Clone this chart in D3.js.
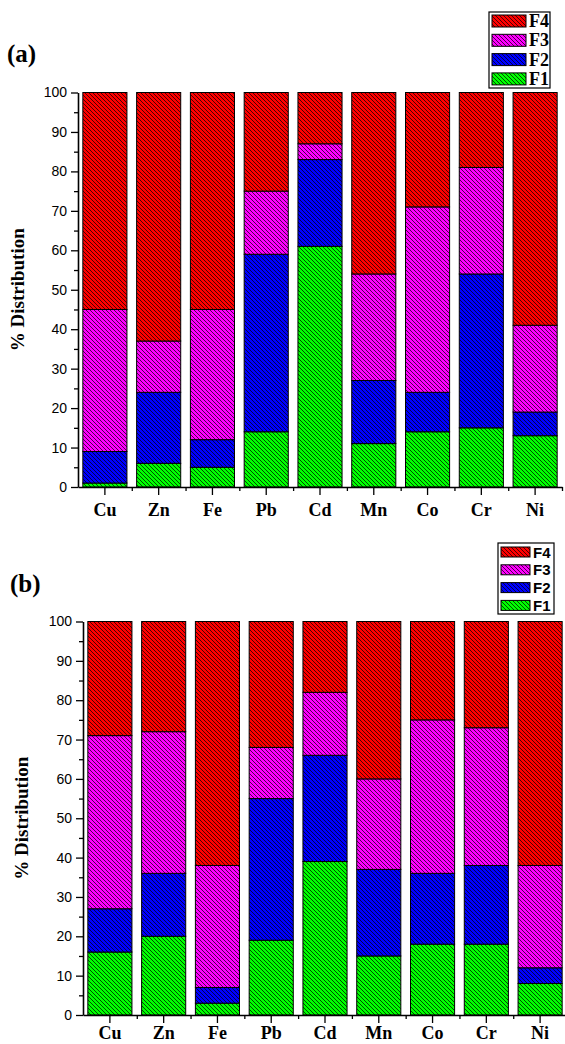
<!DOCTYPE html>
<html>
<head>
<meta charset="utf-8">
<script src="https://cdn.jsdelivr.net/npm/d3@7"></script>
<style>
  body { margin: 0; background: #fff; }
</style>
</head>
<body>
<svg id="chart" width="565" height="1044"></svg>
<script>
const metals = ['Cu', 'Zn', 'Fe', 'Pb', 'Cd', 'Mn', 'Co', 'Cr', 'Ni'];
const fractions = ['F1', 'F2', 'F3', 'F4'];
const fractionColors = ['#00ff00', '#0000ff', '#ff00ff', '#ff0000'];
const yMajorTicks = [0, 10, 20, 30, 40, 50, 60, 70, 80, 90, 100];
const yMinorTicks = [5, 15, 25, 35, 45, 55, 65, 75, 85, 95];

// panel (a), % per fraction
const f1A = [1, 6, 5, 14, 61, 11, 14, 15, 13];
const f2A = [8, 18, 7, 45, 22, 16, 10, 39, 6];
const f3A = [36, 13, 33, 16, 4, 27, 47, 27, 22];
const f4A = [55, 63, 55, 25, 13, 46, 29, 19, 59];

// panel (b)
const f1B = [16, 20, 3, 19, 39, 15, 18, 18, 8];
const f2B = [11, 16, 4, 36, 27, 22, 18, 20, 4];
const f3B = [44, 36, 31, 13, 16, 23, 39, 35, 26];
const f4B = [29, 28, 62, 32, 18, 40, 25, 27, 62];

const serif = '"Times New Roman", "Liberation Serif", serif';
const sans = 'Arial, "Liberation Sans", sans-serif';

const svg = d3.select('#chart');
const defs = svg.append('defs');

// hatch patterns, black diagonal lines over the fill colour
fractionColors.forEach((color, i) => {
  const pat = defs.append('pattern')
    .attr('id', 'hatch' + i)
    .attr('patternUnits', 'userSpaceOnUse')
    .attr('width', 4)
    .attr('height', 4);
  pat.append('rect').attr('width', 4).attr('height', 4).attr('fill', color);
  pat.append('path')
    .attr('d', 'M-1,-1L5,5M3,-1L5,1M-1,3L1,5')
    .attr('stroke', '#000')
    .attr('stroke-width', 0.7);
});

function drawPanel(panel) {
  const rows = metals.map((m, i) => ({
    metal: m,
    F1: panel.values[0][i],
    F2: panel.values[1][i],
    F3: panel.values[2][i],
    F4: panel.values[3][i],
  }));
  const series = d3.stack().keys(fractions)(rows);

  const x = d3.scaleBand()
    .domain(metals)
    .range([panel.left, panel.right])
    .paddingInner(0.18)
    .paddingOuter(0.09);
  const y = d3.scaleLinear()
    .domain([0, 100])
    .range([panel.bottom, panel.top]);

  const g = svg.append('g');

  g.selectAll('g.series')
    .data(series)
    .enter()
    .append('g')
    .attr('fill', (s, i) => `url(#hatch${i})`)
    .selectAll('rect')
    .data(s => s)
    .enter()
    .append('rect')
    .attr('x', d => x(d.data.metal))
    .attr('width', x.bandwidth())
    .attr('y', d => y(d[1]))
    .attr('height', d => y(d[0]) - y(d[1]))
    .attr('stroke', '#000')
    .attr('stroke-width', 1);

  // y axis
  const yAxis = g.append('g')
    .attr('transform', `translate(${panel.left},0)`)
    .call(d3.axisLeft(y).tickValues(yMajorTicks).tickSize(7).tickSizeOuter(0).tickPadding(4));
  yAxis.selectAll('text')
    .style('font-family', sans)
    .style('font-size', '14px')
    .attr('fill', '#000');
  g.append('g')
    .attr('transform', `translate(${panel.left},0)`)
    .call(d3.axisLeft(y).tickValues(yMinorTicks).tickSize(4).tickFormat(''))
    .select('.domain').remove();

  // x axis
  const xAxis = g.append('g')
    .attr('transform', `translate(0,${panel.bottom})`)
    .call(d3.axisBottom(x).tickSize(8).tickSizeOuter(0).tickPadding(panel.xPad));
  xAxis.selectAll('text')
    .style('font-family', serif)
    .style('font-weight', 'bold')
    .style('font-size', '18px')
    .attr('fill', '#000');
  const xMinor = d3.scaleLinear().domain([0, metals.length]).range([panel.left, panel.right]);
  g.append('g')
    .attr('transform', `translate(0,${panel.bottom})`)
    .call(d3.axisBottom(xMinor).tickValues(d3.range(1, metals.length + 1)).tickSize(4).tickFormat(''))
    .select('.domain').remove();

  g.selectAll('.domain').attr('stroke-width', 1.6);
  g.selectAll('.tick line').attr('stroke-width', 1.3);

  // axis title
  g.append('text')
    .attr('transform', `translate(${panel.titleX},${(panel.top + panel.bottom) / 2}) rotate(-90)`)
    .attr('text-anchor', 'middle')
    .attr('dominant-baseline', 'central')
    .style('font-family', serif)
    .style('font-weight', 'bold')
    .style('font-size', '19px')
    .text('% Distribution');

  // panel label
  g.append('text')
    .attr('x', panel.labelX)
    .attr('y', panel.labelY)
    .style('font-family', serif)
    .style('font-weight', 'bold')
    .style('font-size', '25px')
    .text(panel.label);

  // legend, F4 on top
  const lg = panel.legend;
  g.append('rect')
    .attr('x', lg.x)
    .attr('y', lg.y)
    .attr('width', lg.w)
    .attr('height', lg.h)
    .attr('fill', '#fff')
    .attr('stroke', '#000')
    .attr('stroke-width', 1.2);
  const items = fractions.slice().reverse();
  items.forEach((f, k) => {
    const idx = fractions.indexOf(f);
    const cy = lg.y + lg.firstRow + k * lg.step;
    g.append('rect')
      .attr('x', lg.x + 3)
      .attr('y', cy - lg.sh / 2)
      .attr('width', lg.sw)
      .attr('height', lg.sh)
      .attr('fill', `url(#hatch${idx})`)
      .attr('stroke', '#000')
      .attr('stroke-width', 1);
    g.append('text')
      .attr('x', lg.x + lg.sw + 6)
      .attr('y', cy)
      .attr('dominant-baseline', 'central')
      .style('font-family', lg.font)
      .style('font-weight', 'bold')
      .style('font-size', lg.fontSize + 'px')
      .text(f);
  });
}

drawPanel({
  values: [f1A, f2A, f3A, f4A],
  left: 78, right: 562, top: 92.5, bottom: 487,
  xPad: 8,
  titleX: 17, label: '(a)', labelX: 7, labelY: 62,
  legend: { x: 489, y: 12, w: 61, h: 76, firstRow: 9, step: 19.3, sw: 34, sh: 12, font: serif, fontSize: 18 },
});

drawPanel({
  values: [f1B, f2B, f3B, f4B],
  left: 83, right: 567, top: 621.5, bottom: 1015,
  xPad: 3,
  titleX: 21, label: '(b)', labelX: 10, labelY: 592,
  legend: { x: 498, y: 543, w: 56, h: 71, firstRow: 9, step: 17.8, sw: 29, sh: 10, font: sans, fontSize: 15 },
});
</script>
</body>
</html>
